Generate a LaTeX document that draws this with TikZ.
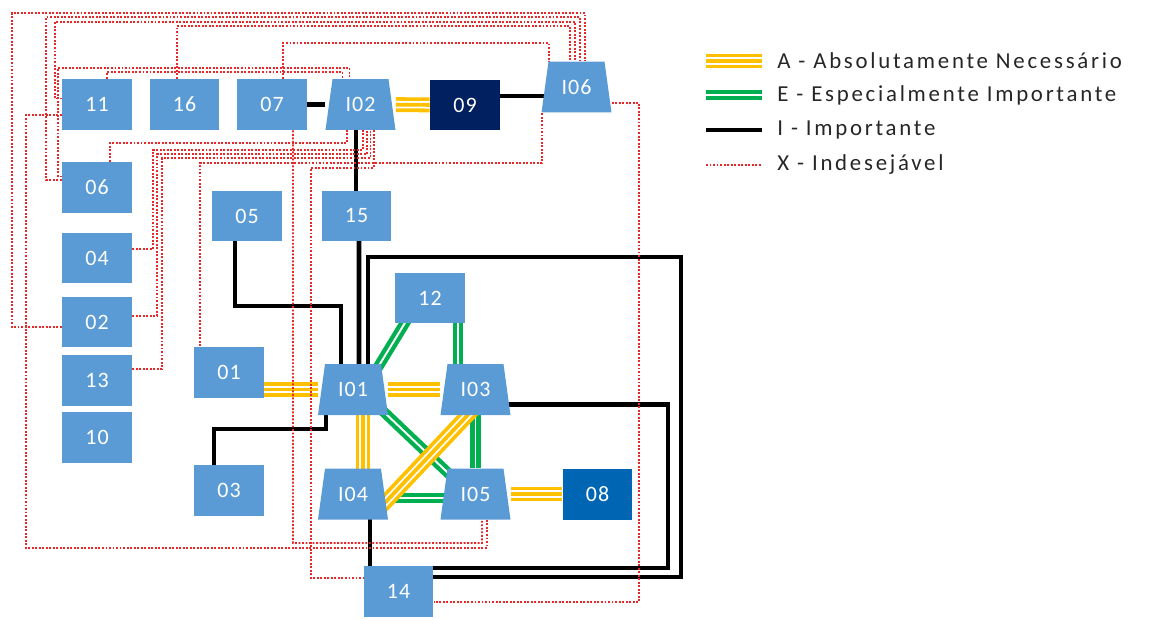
\documentclass[tikz,border=0pt]{standalone}
\usepackage{fontspec}
\setmainfont{Carlito}
\newfontfamily\boxfont[LetterSpace=5]{Carlito}
\newfontfamily\legfont[LetterSpace=12]{Carlito}
\usetikzlibrary{calc,backgrounds}

\definecolor{boxblue}{RGB}{91,155,213}
\definecolor{navybox}{RGB}{0,32,96}
\definecolor{deepbox}{RGB}{0,102,179}
\definecolor{ayellow}{RGB}{255,192,0}
\definecolor{egreen}{RGB}{0,176,80}
\definecolor{xred}{RGB}{230,40,40}

\tikzset{
  box/.style={rectangle, fill=boxblue, minimum width=1.4cm, minimum height=1.02cm,
    inner sep=0pt, text=white, font=\boxfont\fontsize{12.5}{14}\selectfont},
  iface/.style={box, fill=none, path picture={
      \fill[boxblue] ([xshift=0.14cm]path picture bounding box.north west)
        -- ([xshift=-0.14cm]path picture bounding box.north east)
        -- (path picture bounding box.south east)
        -- (path picture bounding box.south west) -- cycle;}},
  aline/.style={draw=ayellow, line width=8.5pt,
    postaction={draw=white, line width=4.2pt},
    postaction={draw=ayellow, line width=2.2pt}},
  eline/.style={draw=egreen, line width=6pt,
    postaction={draw=white, line width=1.1pt}},
  iline/.style={draw=black, line width=2.6pt},
  xline/.style={draw=xred, line width=1pt, dash pattern=on 1.1pt off 0.9pt},
  legtext/.style={anchor=west, inner sep=0pt, text=black!85,
    font=\legfont\fontsize{13}{15}\selectfont}
}

\begin{document}
\begin{tikzpicture}[x=0.02cm, y=-0.02cm]
  \useasboundingbox (0,0) rectangle (1157,619);

  %-------------------------
  % Left column
  %-------------------------
  \node[box] (b11) at (97,104.5) {11};
  \node[box] (b06) at (97,187.5) {06};
  \node[box] (b04) at (97,258) {04};
  \node[box] (b02) at (97,322) {02};
  \node[box] (b13) at (97,380.5) {13};
  \node[box] (b10) at (97,437.5) {10};

  %-------------------------
  % Top row
  %-------------------------
  \node[box] (b16) at (184.5,104.5) {16};
  \node[box] (b07) at (272,104.5) {07};
  \node[iface] (i02) at (360.5,104.5) {I02};
  \node[box, fill=navybox] (b09) at (465,105) {09};
  \node[iface] (i06) at (576.5,87) {I06};

  %-------------------------
  % Centre block
  %-------------------------
  \node[box] (b05) at (247,216) {05};
  \node[box] (b15) at (356.5,216) {15};
  \node[box] (b12) at (430,298) {12};
  \node[box] (b01) at (229,372) {01};
  \node[iface] (i01) at (353,389.5) {I01};
  \node[iface] (i03) at (475.5,389.5) {I03};
  \node[box] (b03) at (229,490) {03};
  \node[iface] (i04) at (353,494) {I04};
  \node[iface] (i05) at (475.5,494) {I05};
  \node[box, fill=deepbox] (b08) at (597.5,494) {08};
  \node[box] (b14) at (398.5,591) {14};

  \begin{scope}[on background layer]
    % E links
    \draw[eline] ($(b12)+(-19,15)$) -- ($(i01)+(19,-12.5)$);
    \draw[eline] ($(b12)+(28,0)$) -- ($(i03)+(-17.5,0)$);
    \draw[eline] ($(i01)+(22,14)$) -- ($(i05)+(-18.5,-12.5)$);
    \draw[eline] (i03) -- (i05);
    \draw[eline] ($(i04)+(0,4)$) -- ($(i05)+(0,4)$);

    % A links
    \draw[aline] (i02) -- (b09);
    \draw[aline] (b01 |- i01) -- (i01);
    \draw[aline] (i01) -- (i03);
    \draw[aline] ($(i01)+(10,0)$) -- ($(i04)+(10,0)$);
    \draw[aline] ($(i03)+(5,12)$) -- ($(i04)+(27,14)$);
    \draw[aline] (i05) -- (b08);

    % I links
    \draw[iline] (b07) -- (i02);
    \draw[iline] ($(b09)+(0,-9)$) -- ($(i06)+(0,9)$);
    \draw[iline] ($(i02)+(-4.5,0)$) -- ($(b15)+(-0.5,0)$);
    \draw[iline] ($(b15)+(2.5,0)$) -- ($(i01)+(6,0)$);
    \draw[iline] ($(b05)+(-12,0)$) |- (341,306) -- ($(i01)+(-12,0)$);
    \draw[iline] ($(b03)+(-15,0)$) |- (326,429) -- ($(i01)+(-27,0)$);
    \draw[iline] ($(i01)+(15,0)$) |- (681,257) |- ($(b14)+(0,-14)$);
    \draw[iline] ($(i03)+(0,15)$) -| (668,568) -- ($(b14)+(0,-23)$);
    \draw[iline] ($(i04)+(17,0)$) -- ($(b14)+(-28.5,0)$);

    % X links
    \draw[xline] ($(b02.west)+(0,5)$) -| (12,13) -| ($(i06.north)+(8.5,0)$);
    \draw[xline] ($(b06.west)+(0,-7.5)$) -| (46,17) -| ($(i06.north)+(3.5,0)$);
    \draw[xline] ($(b11.west)+(0,-6)$) -| (55,22) -| ($(i06.north)+(-1.5,0)$);
    \draw[xline] ($(b16.north)+(-7.5,0)$) |- (570,26) -- ($(i06.north)+(-6.5,0)$);
    \draw[xline] ($(b07.north)+(11,0)$) |- (549,43) -- ($(i06.north)+(-27.5,0)$);
    \draw[xline] ($(b11.north)+(10,0)$) |- (342.5,72) -- ($(i02.north)+(-18,0)$);
    \draw[xline] ($(b06.west)+(0,-11)$) -| (58,68) -| ($(i02.north)+(-11,0)$);
    \draw[xline] ($(b11.west)+(0,10.5)$) -| (26,548) -| ($(i05.south)+(11.5,0)$);
    \draw[xline] ($(b07.south)+(21,0)$) |- (482,543) -- ($(i05.south)+(6.5,0)$);
    \draw[xline] ($(b06.north)+(13,0)$) |- (347,143) -- ($(i02.south)+(-13.5,0)$);
    \draw[xline] ($(b04.east)+(0,-9)$) -| (153,150) -| ($(i02.south)+(2.5,0)$);
    \draw[xline] ($(b02.east)+(0,-6)$) -| (157,154) -| ($(i02.south)+(6.5,0)$);
    \draw[xline] ($(b13.east)+(0,-11.5)$) -| (162,158) -| ($(i02.south)+(10,0)$);
    \draw[xline] ($(b01.north)+(-29,0)$) |- (542,163) -- ($(i06.south)+(-34.5,0)$);
    \draw[xline] ($(i02.south)+(13.5,0)$) |- (311,168) |- ($(b14.west)+(0,-13)$);
    \draw[xline] ($(i06.east)+(0,16)$) -| (639,602) -- ($(b14.east)+(0,11)$);
  \end{scope}

  %-------------------------
  % Legend
  %-------------------------
  \node[legtext] (legA) at (777,61) {A - Absolutamente Necessário};
  \node[legtext] (legE) at (777,95) {E - Especialmente Importante};
  \node[legtext] (legI) at (777,130) {I - Importante};
  \node[legtext] (legX) at (777,165) {X - Indesejável};
  \draw[aline] ($(legA.west)+(-71,0)$) -- ($(legA.west)+(-15,0)$);
  \draw[eline] ($(legE.west)+(-71,0)$) -- ($(legE.west)+(-15,0)$);
  \draw[iline] ($(legI.west)+(-71,0)$) -- ($(legI.west)+(-15,0)$);
  \draw[xline, line width=0.6pt] ($(legX.west)+(-71,0)$) -- ($(legX.west)+(-15,0)$);

\end{tikzpicture}
\end{document}
